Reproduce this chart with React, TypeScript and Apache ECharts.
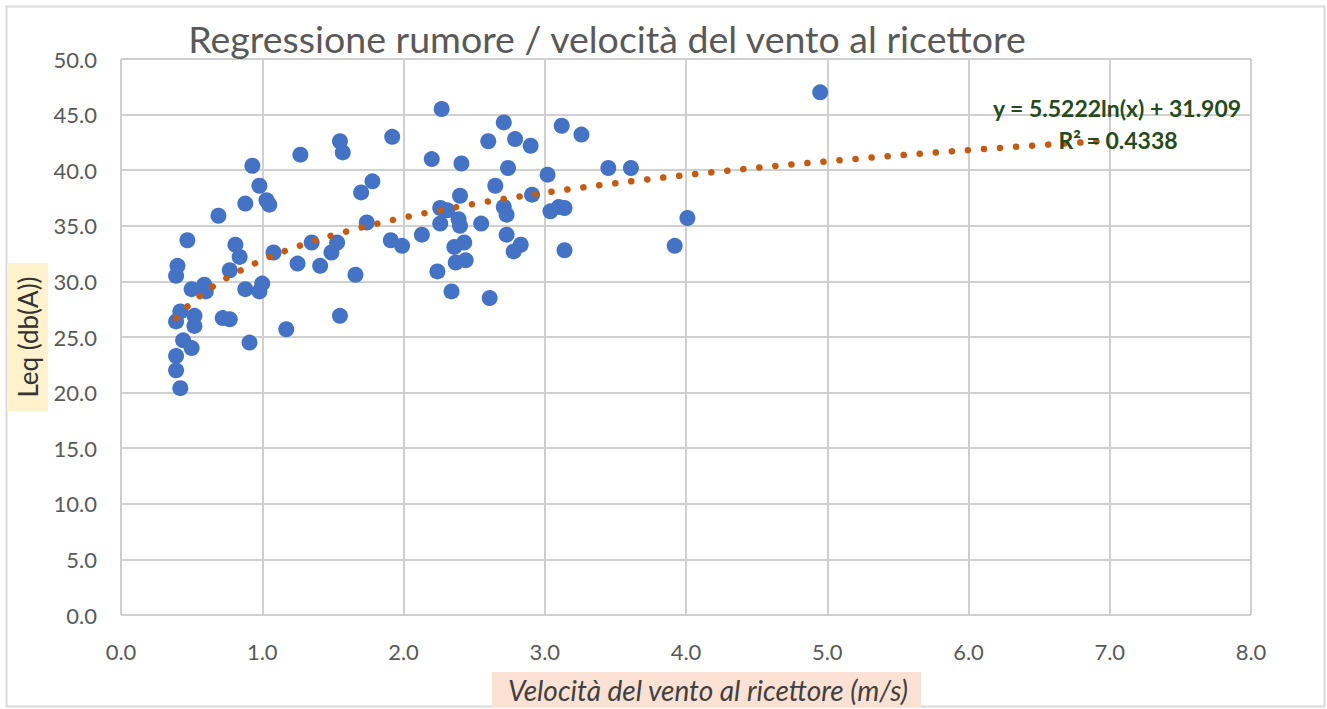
import React, { useEffect, useRef } from "react";
import * as echarts from "echarts";

const windSpeed: number[] = [
  0.40, 0.39, 0.42, 0.39, 0.39, 0.39, 0.42, 0.44, 0.47, 0.50,
  0.50, 0.52, 0.52, 0.59, 0.60, 0.69, 0.72, 0.77, 0.77, 0.81,
  0.84, 0.88, 0.88, 0.91, 0.93, 0.98, 0.98, 1.00, 1.03, 1.05,
  1.08, 1.17, 1.25, 1.27, 1.35, 1.41, 1.49, 1.53, 1.55, 1.55,
  1.57, 1.66, 1.70, 1.74, 1.78, 1.91, 1.92, 1.99, 2.13, 2.20,
  2.24, 2.26, 2.27, 2.26, 2.31, 2.34, 2.36, 2.37, 2.39, 2.40,
  2.40, 2.41, 2.43, 2.44, 2.55, 2.60, 2.61, 2.65, 2.71, 2.71,
  2.73, 2.73, 2.74, 2.79, 2.78, 2.83, 2.90, 2.91, 3.02, 3.04,
  3.10, 3.14, 3.12, 3.14, 3.26, 3.45, 3.61, 3.92, 4.01, 4.95,
];

const leq: number[] = [
  31.4, 30.5, 27.3, 26.4, 23.3, 22.0, 20.4, 24.7, 33.7, 29.3,
  24.0, 26.9, 26.0, 29.7, 29.1, 35.9, 26.7, 26.6, 31.0, 33.3,
  32.2, 37.0, 29.3, 24.5, 40.4, 38.6, 29.1, 29.8, 37.3, 36.9,
  32.6, 25.7, 31.6, 41.4, 33.5, 31.4, 32.6, 33.5, 26.9, 42.6,
  41.6, 30.6, 38.0, 35.3, 39.0, 33.7, 43.0, 33.2, 34.2, 41.0,
  30.9, 36.6, 45.5, 35.2, 36.4, 29.1, 33.1, 31.7, 35.6, 37.7,
  35.0, 40.6, 33.5, 31.9, 35.2, 42.6, 28.5, 38.6, 44.3, 36.7,
  36.0, 34.2, 40.2, 42.8, 32.7, 33.3, 42.2, 37.8, 39.6, 36.3,
  36.7, 36.6, 44.0, 32.8, 43.2, 40.2, 40.2, 33.2, 35.7, 47.0,
];

// Logarithmic trendline coefficients as printed on the chart
const trendA = 5.5222;
const trendB = 31.909;
const trendR2 = 0.4338;
const trendStart = 0.39;
const trendEnd = 7.0;

const xTicks = { min: 0, max: 8, interval: 1 };
const yTicks = { min: 0, max: 50, interval: 5 };

const titleText = "Regressione rumore / velocità del vento al ricettore";
const xName = "Velocità del vento al ricettore (m/s)";
const yName = "Leq (db(A))";

export default function App() {
  const ref = useRef<HTMLDivElement>(null);

  useEffect(() => {
    document.body.style.margin = "0";
    if (!ref.current) return;
    const chart = echarts.init(ref.current, null, { renderer: "svg" });

    const scatterData = windSpeed.map((x, i) => [x, leq[i]]);
    const trendData: number[][] = [];
    const steps = 200;
    for (let i = 0; i <= steps; i++) {
      const x = trendStart + ((trendEnd - trendStart) * i) / steps;
      trendData.push([x, trendA * Math.log(x) + trendB]);
    }

    const font = "Lato, 'Noto Sans', sans-serif";

    chart.setOption({
      animation: false,
      textStyle: { fontFamily: font },
      title: {
        text: titleText,
        left: 602,
        top: 14,
        textAlign: "center",
        textStyle: { fontSize: 37.5, fontWeight: "normal", color: "#595959", fontFamily: font },
      },
      grid: { left: 121, right: 76, top: 59, bottom: 94, containLabel: false },
      xAxis: {
        type: "value",
        min: xTicks.min,
        max: xTicks.max,
        interval: xTicks.interval,
        axisLine: { show: false },
        axisTick: { show: false },
        axisLabel: {
          formatter: (v: number) => v.toFixed(1),
          fontSize: 22,
          color: "#595959",
          margin: 25,
        },
        splitLine: { show: true, lineStyle: { color: "#d0d0d0", width: 2 } },
      },
      yAxis: {
        type: "value",
        min: yTicks.min,
        max: yTicks.max,
        interval: yTicks.interval,
        axisLine: { show: false },
        axisTick: { show: false },
        axisLabel: {
          formatter: (v: number) => v.toFixed(1),
          fontSize: 22,
          color: "#595959",
          margin: 24,
        },
        splitLine: { show: true, lineStyle: { color: "#d0d0d0", width: 2 } },
      },
      series: [
        {
          type: "scatter",
          data: scatterData,
          symbolSize: 16,
          itemStyle: { color: "#4472c4", opacity: 1 },
          z: 2,
        },
        {
          type: "line",
          data: trendData,
          showSymbol: false,
          symbol: "none",
          smooth: false,
          lineStyle: { color: "#c55a11", width: 6.5, type: [0.1, 16], cap: "round" },
          z: 3,
        },
      ],
      graphic: [
        {
          type: "rect",
          left: 4,
          top: 4,
          shape: { width: 1318, height: 700 },
          style: { fill: "none", stroke: "#d9d9d9", lineWidth: 2 },
          silent: true,
        },
        {
          type: "rect",
          left: 7,
          top: 263,
          shape: { width: 41, height: 148 },
          style: { fill: "#fff2cc" },
          silent: true,
        },
        {
          type: "text",
          x: 28,
          y: 337,
          rotation: Math.PI / 2,
          style: {
            text: yName,
            fontSize: 26,
            fontFamily: font,
            fill: "#333333",
            align: "center",
            verticalAlign: "middle",
          },
        },
        {
          type: "rect",
          left: 492,
          top: 672,
          shape: { width: 429, height: 35 },
          style: { fill: "#fbe1d3" },
          silent: true,
        },
        {
          type: "text",
          x: 708,
          y: 690,
          style: {
            text: xName,
            fontSize: 28,
            fontStyle: "italic",
            fontFamily: font,
            fill: "#404040",
            align: "center",
            verticalAlign: "middle",
          },
        },
        {
          type: "text",
          x: 1117,
          y: 108,
          z: 10,
          style: {
            text: `y = ${trendA}ln(x) + ${trendB}`,
            fontSize: 23,
            fontWeight: "bold",
            fontFamily: font,
            fill: "#254a1c",
            align: "center",
            verticalAlign: "middle",
          },
        },
        {
          type: "text",
          x: 1118,
          y: 140,
          z: 10,
          style: {
            text: `R² = ${trendR2}`,
            fontSize: 23,
            fontWeight: "bold",
            fontFamily: font,
            fill: "#254a1c",
            align: "center",
            verticalAlign: "middle",
          },
        },
      ],
    });

    return () => chart.dispose();
  }, []);

  return (
    <div
      ref={ref}
      style={{ position: "absolute", left: 0, top: 0, width: 1327, height: 709, background: "#fff" }}
    />
  );
}
